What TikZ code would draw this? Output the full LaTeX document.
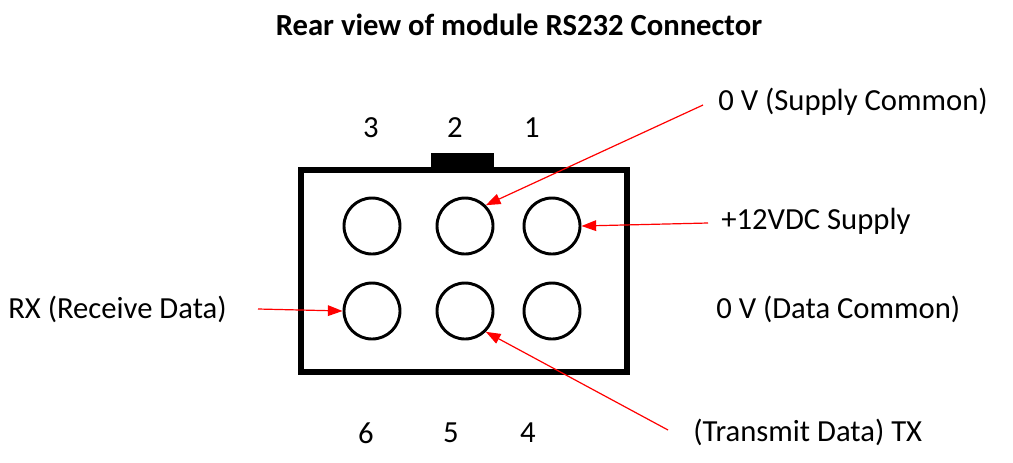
\documentclass[tikz,border=0pt]{standalone}
\usepackage{fontspec}
\setmainfont{Carlito}
\usetikzlibrary{arrows.meta}
\begin{document}
\begin{tikzpicture}[x=0.75pt,y=-0.75pt,
  pin/.style={circle,draw,line width=2.2pt,minimum size=56*0.75pt,inner sep=0pt},
  lbl/.style={font=\fontsize{23}{27}\selectfont,inner sep=0pt},
  arr/.style={red,line width=0.9pt,-{Triangle[length=11pt,width=8pt]}}]
\useasboundingbox (0,0) rectangle (1013,462);
\node[font=\bfseries\fontsize{23}{27}\selectfont] (title) at (519,25) {Rear view of module RS232 Connector};
\fill (431,153) rectangle (494,170);
\draw[line width=4.5pt] (301,170) rectangle (627,372);
\node[pin] (p3) at (372,226) {};
\node[pin] (p2) at (465,226) {};
\node[pin] (p1) at (552,226) {};
\node[pin] (p6) at (372,311) {};
\node[pin] (p5) at (465,311) {};
\node[pin] (p4) at (552,311) {};
\node[lbl] (n3) at (371,128) {3};
\node[lbl] (n2) at (455,128) {2};
\node[lbl] (n1) at (532,128) {1};
\node[lbl] (n6) at (366,433) {6};
\node[lbl] (n5) at (451,433) {5};
\node[lbl] (n4) at (528,433) {4};
\node[lbl,anchor=west] (l1) at (718,102) {0 V (Supply Common)};
\node[lbl,anchor=west] (l2) at (721,221) {+12VDC Supply};
\node[lbl,anchor=west] (l3) at (8,309) {RX (Receive Data)};
\node[lbl,anchor=west] (l4) at (716,309) {0 V (Data Common)};
\node[lbl,anchor=west] (l5) at (693,432) {(Transmit Data) TX};
\coordinate (a1) at (703,105);
\coordinate (a2) at (708,223);
\coordinate (a3) at (258,309);
\coordinate (a5) at (668,430);
\draw[arr] (a1) -- (p2.north east);
\draw[arr] (a2) -- (p1.east);
\draw[arr] (a3) -- (p6.west);
\draw[arr] (a5) -- (p5.south east);
\end{tikzpicture}
\end{document}
